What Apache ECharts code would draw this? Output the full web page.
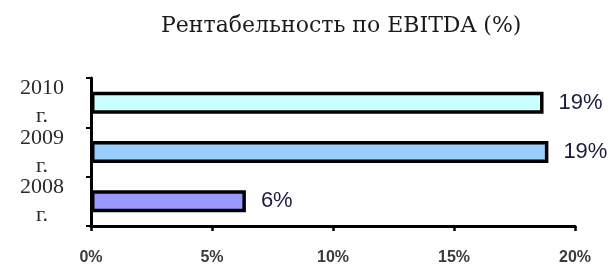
<!DOCTYPE html>
<html><head><meta charset="utf-8">
<script src="https://cdn.jsdelivr.net/npm/echarts@6/dist/echarts.min.js"></script>
<style>html,body{margin:0;padding:0;background:#fff}#c{width:614px;height:269px}</style>
</head><body><div id="c"></div>
<script>
const categories = ['2008\nг.', '2009\nг.', '2010\nг.'];
const values = [6.4, 18.9, 18.7];
const labels = ['6%', '19%', '19%'];
const colors = ['#9999FF', '#99CCFF', '#CCFFFF'];
const xTicks = [0, 5, 10, 15, 20];
const title = 'Рентабельность по EBITDA (%)';

const chart = echarts.init(document.getElementById('c'), null, {renderer: 'canvas'});
chart.setOption({
  animation: false,
  title: {
    text: title, left: 156, top: 10,
    textStyle: {fontFamily: 'DejaVu Serif', fontWeight: 'normal', fontSize: 22, color: '#1a1a1a'}
  },
  grid: {left: 91, right: 39, top: 78, bottom: 43},
  xAxis: {
    type: 'value', min: xTicks[0], max: xTicks[xTicks.length - 1], interval: 5,
    axisLine: {show: true, lineStyle: {color: '#000', width: 3}},
    axisTick: {show: true, length: 5, lineStyle: {color: '#000', width: 2.5}},
    splitLine: {show: false},
    axisLabel: {margin: 24, fontFamily: 'Liberation Sans', fontWeight: 'bold', fontSize: 16, color: '#3a3a3a', formatter: v => v + '%'}
  },
  yAxis: {
    type: 'category', data: categories,
    axisLine: {show: true, lineStyle: {color: '#000', width: 3}},
    axisTick: {show: true, length: 5, lineStyle: {color: '#000', width: 2}},
    axisLabel: {interval: 0, margin: 49, align: 'center', fontFamily: 'Liberation Serif', fontSize: 22, lineHeight: 28, color: '#2a2a2a'}
  },
  series: [{
    type: 'bar', barWidth: 22,
    data: values.map((v, i) => ({
      value: v,
      itemStyle: {color: colors[i]},
      label: {formatter: labels[i]}
    })),
    itemStyle: {borderColor: '#000', borderWidth: 3.5},
    label: {show: true, position: 'right', distance: 15, fontFamily: 'Liberation Sans', fontSize: 22, color: '#1c1c3c'}
  }]
});
</script></body></html>
